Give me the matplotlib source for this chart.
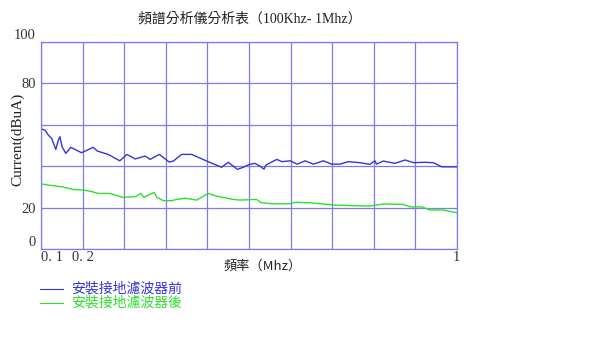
import matplotlib
matplotlib.use("Agg")
import matplotlib.pyplot as plt
from matplotlib.lines import Line2D

# ---- 資料 (x: 格線位置 0..10, y: dBuA) ----
before_x = [0.02, 0.09, 0.17, 0.25, 0.35, 0.41, 0.45, 0.50, 0.59, 0.71, 0.97, 1.25, 1.35,
            1.61, 1.89, 2.06, 2.26, 2.50, 2.62, 2.84, 3.08, 3.18, 3.38, 3.62, 3.98, 4.34,
            4.50, 4.72, 4.85, 5.00, 5.14, 5.26, 5.36, 5.41, 5.67, 5.79, 5.99, 6.16, 6.35,
            6.55, 6.79, 6.99, 7.19, 7.39, 7.67, 7.91, 8.03, 8.07, 8.23, 8.51, 8.76, 8.96,
            9.24, 9.44, 9.64, 10.0]
before_y = [57.9, 57.5, 55.1, 53.5, 48.2, 52.7, 54.3, 49.5, 46.3, 49.2, 46.6, 49.2, 47.4,
            45.8, 42.7, 45.8, 43.6, 45.0, 43.4, 45.8, 42.1, 42.6, 45.8, 45.8, 42.6, 39.6,
            42.0, 38.6, 39.5, 40.9, 41.5, 40.2, 38.7, 40.7, 43.4, 42.3, 42.7, 41.1, 42.7,
            41.1, 42.7, 41.1, 41.1, 42.3, 41.8, 41.0, 42.7, 41.1, 42.6, 41.5, 43.1, 41.8,
            42.0, 41.8, 39.8, 39.8]
after_x = [0.02, 0.21, 0.49, 0.77, 1.01, 1.17, 1.37, 1.65, 1.97, 2.26, 2.40, 2.47, 2.58,
           2.72, 2.78, 2.94, 3.14, 3.26, 3.46, 3.74, 4.02, 4.22, 4.62, 4.78, 5.18, 5.30,
           5.58, 5.99, 6.11, 6.47, 7.03, 7.91, 8.23, 8.71, 8.88, 9.16, 9.36, 9.68, 10.0]
after_y = [31.5, 30.9, 30.2, 28.9, 28.6, 28.1, 27.0, 27.0, 25.1, 25.4, 27.0, 25.1, 26.2,
           27.5, 25.1, 23.5, 23.5, 24.1, 24.7, 23.8, 27.0, 25.7, 24.1, 23.8, 24.1, 22.5,
           22.0, 22.0, 22.7, 22.5, 21.4, 20.9, 21.9, 21.7, 20.5, 20.5, 19.0, 19.0, 17.7]

x_ticks = list(range(11))
x_labels = ['0. 1', '0. 2', '', '', '', '', '', '', '', '', '1']
y_ticks = [0, 20, 40, 60, 80, 100]
y_labels = ['0', '20', '', '', '80', '100']
labels = ['安裝接地濾波器前', '安裝接地濾波器後']

CJK = ['Noto Sans CJK TC', 'DejaVu Sans']
SERIF = ['Liberation Serif', 'Noto Sans CJK TC']
GRID = '#7b7bf0'
BLUE = '#3535d8'
GREEN = '#2ee02e'

fig = plt.figure(figsize=(6, 3.38), dpi=100)
ax = fig.add_axes([0.0688, 0.262, 0.6924, 0.614])

ax.plot(before_x, before_y, color=BLUE, lw=1.0)
ax.plot(after_x, after_y, color=GREEN, lw=1.0)

ax.set_xlim(0, 10); ax.set_ylim(0, 100)
ax.set_xticks(x_ticks); ax.set_yticks(y_ticks)
ax.set_xticklabels(x_labels, family=SERIF, fontsize=10.5)
ax.set_yticklabels(y_labels, family=SERIF, fontsize=10.5)
ax.tick_params(axis='x', length=0, pad=1, colors='#333333')
ax.tick_params(axis='y', length=0, pad=4, colors='#333333')
ax.grid(color=GRID, lw=0.9)
for s in ax.spines.values():
    s.set_color(GRID); s.set_linewidth(0.9)
# 0 與 100 標籤略往內移
yl = ax.get_yticklabels()
yl[0].set_va('bottom'); yl[-1].set_va('bottom')
xl = ax.get_xticklabels()
xl[0].set_ha('left')

fig.text(0.417, 0.945, '頻譜分析儀分析表（100Khz- 1Mhz）', family=SERIF, fontsize=10,
         ha='center', va='center', color='#222222')
fig.text(0.437, 0.213, '頻率（Mhz）', family=CJK, fontsize=9.5, ha='center', va='center',
         color='#222222')
fig.text(0.029, 0.588, 'Current(dBuA)', family=SERIF, fontsize=11, rotation=90,
         ha='center', va='center', color='#222222')

# 圖例
for i, (lab, c) in enumerate(zip(labels, [BLUE, GREEN])):
    yy = 1 - (289 + 14 * i) / 338
    fig.add_artist(Line2D([40 / 600, 63 / 600], [yy, yy], color=c, lw=0.8))
    fig.text(71 / 600, yy, lab, family=CJK, fontsize=10, color=c, va='center')

fig.savefig('out.png', dpi=100)
